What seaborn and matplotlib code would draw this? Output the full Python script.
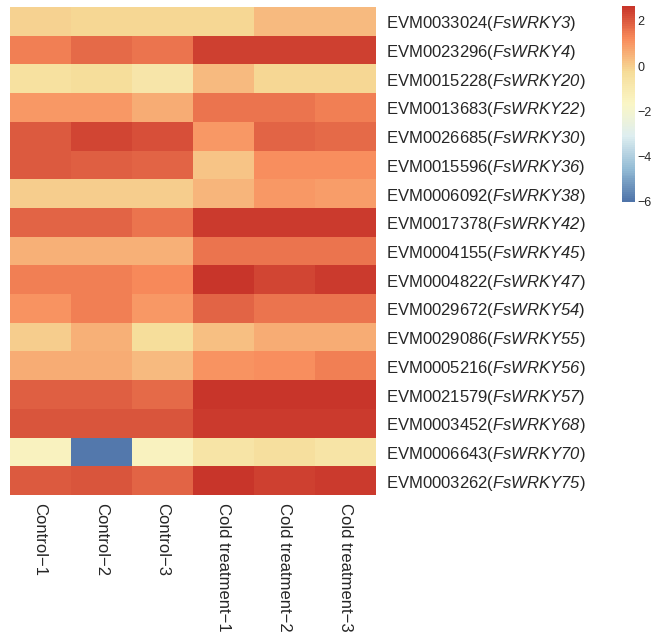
import numpy as np
import pandas as pd
import seaborn as sns
import matplotlib.pyplot as plt
from matplotlib.colors import LinearSegmentedColormap

# gene ids and their WRKY names (row order top -> bottom)
GENE_IDS = [
    "EVM0033024", "EVM0023296", "EVM0015228", "EVM0013683", "EVM0026685",
    "EVM0015596", "EVM0006092", "EVM0017378", "EVM0004155", "EVM0004822",
    "EVM0029672", "EVM0029086", "EVM0005216", "EVM0021579", "EVM0003452",
    "EVM0006643", "EVM0003262",
]
WRKY_NAMES = [
    "FsWRKY3", "FsWRKY4", "FsWRKY20", "FsWRKY22", "FsWRKY30",
    "FsWRKY36", "FsWRKY38", "FsWRKY42", "FsWRKY45", "FsWRKY47",
    "FsWRKY54", "FsWRKY55", "FsWRKY56", "FsWRKY57", "FsWRKY68",
    "FsWRKY70", "FsWRKY75",
]
SAMPLES = ["Control\u22121", "Control\u22122", "Control\u22123",
           "Cold treatment\u22121", "Cold treatment\u22122", "Cold treatment\u22123"]

# scaled expression
control_1 = [-0.1, 1.4, -0.5, 0.95, 2.0, 2.0, 0.0, 1.8, 0.5, 1.4, 1.05, 0.05, 0.65, 1.9, 2.1, -1.5, 2.0]
control_2 = [-0.15, 1.7, -0.3, 0.95, 2.35, 1.9, 0.05, 1.8, 0.5, 1.4, 1.4, 0.5, 0.65, 1.9, 2.05, -5.9, 2.1]
control_3 = [-0.15, 1.6, -0.8, 0.6, 2.2, 1.8, 0.05, 1.6, 0.5, 1.25, 0.95, -0.3, 0.4, 1.75, 2.1, -1.5, 1.85]
cold_1 = [-0.15, 2.4, 0.35, 1.6, 0.95, 0.2, 0.45, 2.55, 1.55, 2.6, 1.85, 0.3, 1.05, 2.6, 2.55, -0.7, 2.6]
cold_2 = [0.4, 2.4, -0.2, 1.6, 1.85, 1.15, 0.95, 2.55, 1.6, 2.35, 1.6, 0.65, 1.1, 2.6, 2.55, -0.4, 2.45]
cold_3 = [0.4, 2.4, -0.2, 1.4, 1.75, 1.15, 0.9, 2.55, 1.6, 2.5, 1.6, 0.65, 1.4, 2.6, 2.55, -0.7, 2.5]

# pheatmap-like palette (reversed RdYlBu, 7 stops), toned down a bit
PALETTE = ["#4F74A9", "#93BBD5", "#DEEEF0", "#FAF6C6", "#F6DC98", "#F88C5C", "#C8352A"]

sns.set_theme(style="white")
plt.rcParams["font.family"] = ["Liberation Sans", "DejaVu Sans"]
# math parts only hold the gene names -> render them all in italic
plt.rcParams["mathtext.fontset"] = "custom"
plt.rcParams["mathtext.rm"] = "Liberation Sans:italic"
plt.rcParams["mathtext.it"] = "Liberation Sans:italic"

row_labels = [f"{g}($\\mathrm{{{n}}}$)" for g, n in zip(GENE_IDS, WRKY_NAMES)]
df = pd.DataFrame(
    np.column_stack([control_1, control_2, control_3, cold_1, cold_2, cold_3]),
    index=row_labels, columns=SAMPLES,
)

cmap = LinearSegmentedColormap.from_list("pheat", PALETTE, N=100)

fig = plt.figure(figsize=(6.61, 6.41), dpi=100)
ax = fig.add_axes([0.0144, 0.2278, 0.5545, 0.7613])
cax = fig.add_axes([0.9405, 0.6849, 0.0201, 0.3058])

sns.heatmap(df, ax=ax, cbar_ax=cax, cmap=cmap, vmin=-6, vmax=2.65,
            linewidths=0, xticklabels=True, yticklabels=True)

ax.yaxis.tick_right()
ax.tick_params(axis="y", length=0, pad=7.5, labelsize=12, labelrotation=0)
ax.tick_params(axis="x", length=0, pad=5.5, labelsize=12)
for lab in ax.get_xticklabels():
    lab.set_rotation(270)
    lab.set_va("top")
    lab.set_ha("center")
for lab in ax.get_yticklabels():
    lab.set_ha("left")
ax.set_xlabel("")
ax.set_ylabel("")

cbar = ax.collections[0].colorbar
cbar.set_ticks([-6, -4, -2, 0, 2])
cbar.outline.set_visible(False)
cax.tick_params(length=0, pad=2, labelsize=9)

fig.savefig("out.png", dpi=100)
